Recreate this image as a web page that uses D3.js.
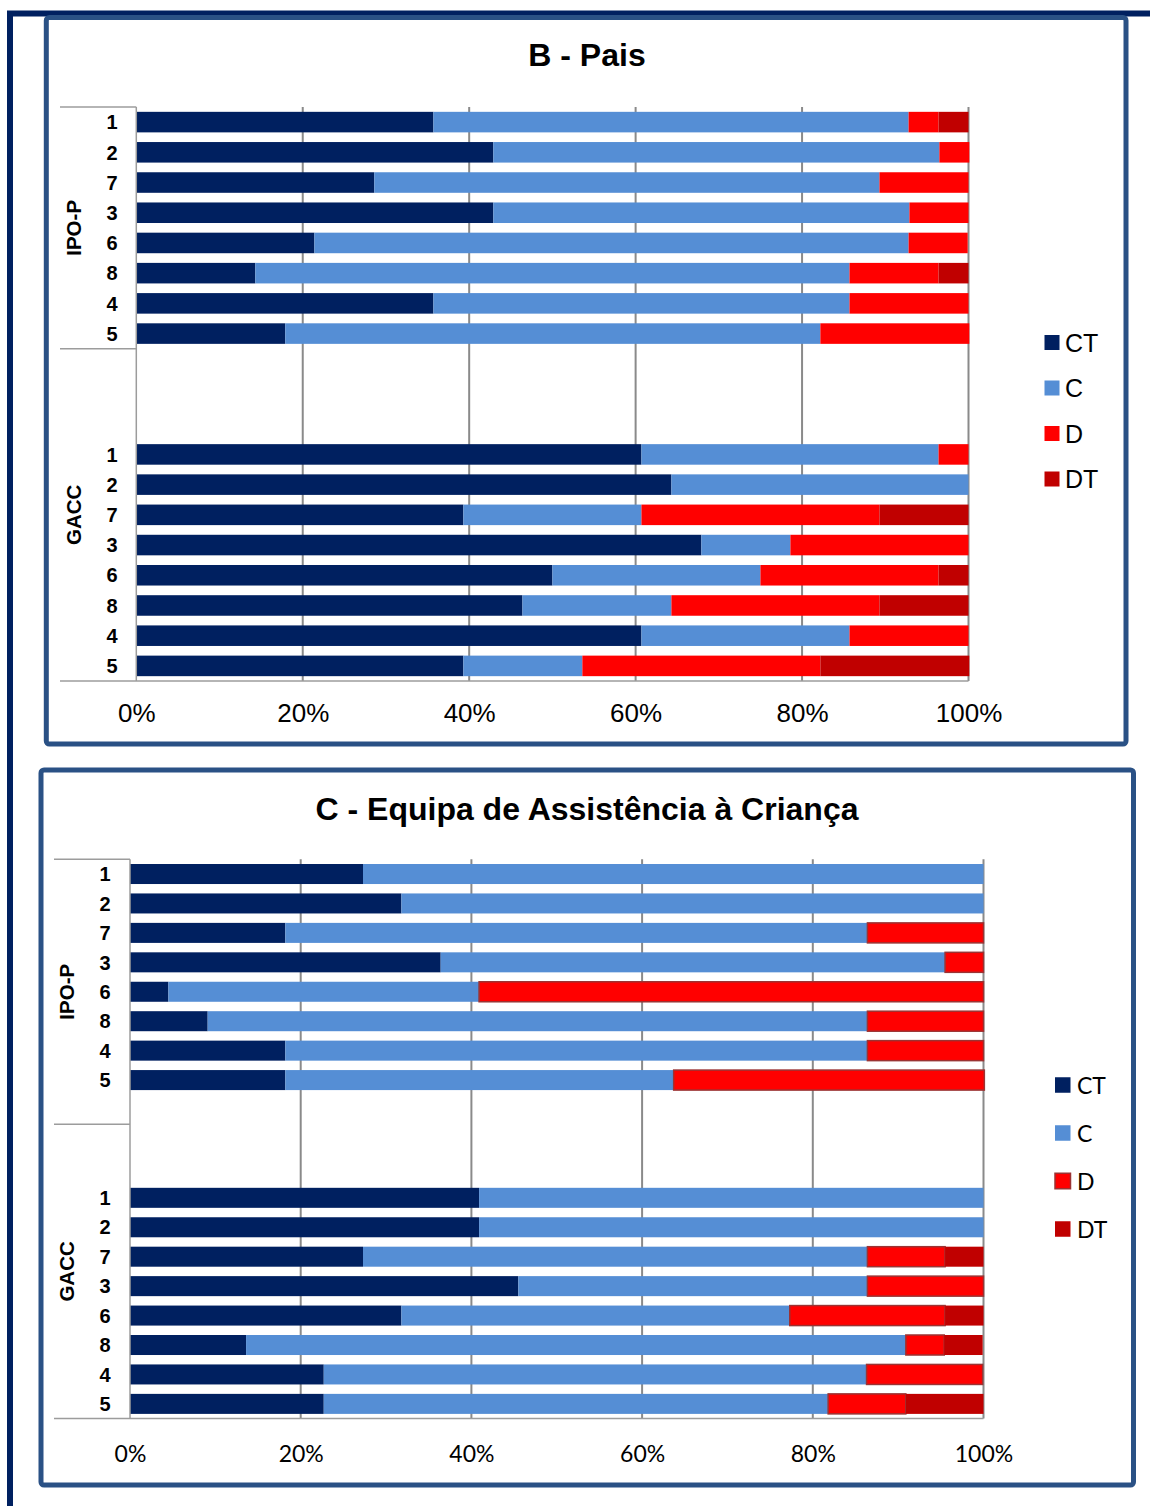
<!DOCTYPE html>
<html>
<head>
<meta charset="utf-8">
<script src="https://cdn.jsdelivr.net/npm/d3@7"></script>
<style>
  html, body { margin: 0; padding: 0; background: #fff; }
  svg { display: block; }
</style>
</head>
<body>
<svg id="fig" width="1150" height="1506"></svg>
<script>
// ---- data ----
const categories = ["1", "2", "7", "3", "6", "8", "4", "5"];
const groups = ["IPO-P", "GACC"];
const seriesNames = ["CT", "C", "D", "DT"];
const tickValues = [0, 20, 40, 60, 80, 100];

// B - Pais (percentages per item)
const paisIpoCT = [35.7, 42.9, 28.6, 42.9, 21.4, 14.3, 35.7, 17.9];
const paisIpoC  = [57.1, 53.6, 60.7, 50.0, 71.4, 71.4, 50.0, 64.3];
const paisIpoD  = [3.6, 3.6, 10.7, 7.1, 7.1, 10.7, 14.3, 17.9];
const paisIpoDT = [3.6, 0, 0, 0, 0, 3.6, 0, 0];
const paisGaccCT = [60.7, 64.3, 39.3, 67.9, 50.0, 46.4, 60.7, 39.3];
const paisGaccC  = [35.7, 35.7, 21.4, 10.7, 25.0, 17.9, 25.0, 14.3];
const paisGaccD  = [3.6, 0, 28.6, 21.4, 21.4, 25.0, 14.3, 28.6];
const paisGaccDT = [0, 0, 10.7, 0, 3.6, 10.7, 0, 17.9];

// C - Equipa de Assistência à Criança
const equipaIpoCT = [27.3, 31.8, 18.2, 36.4, 4.5, 9.1, 18.2, 18.2];
const equipaIpoC  = [72.7, 68.2, 68.2, 59.1, 36.4, 77.3, 68.2, 45.5];
const equipaIpoD  = [0, 0, 13.6, 4.5, 59.1, 13.6, 13.6, 36.4];
const equipaIpoDT = [0, 0, 0, 0, 0, 0, 0, 0];
const equipaGaccCT = [40.9, 40.9, 27.3, 45.5, 31.8, 13.6, 22.7, 22.7];
const equipaGaccC  = [59.1, 59.1, 59.1, 40.9, 45.5, 77.3, 63.6, 59.1];
const equipaGaccD  = [0, 0, 9.1, 13.6, 18.2, 4.5, 13.6, 9.1];
const equipaGaccDT = [0, 0, 4.5, 0, 4.5, 4.5, 0, 9.1];

// ---- styles ----
const colors = { CT: "#002060", C: "#558ED5", D: "#FF0000", DT: "#C00000" };
const ARIAL = "'Liberation Sans', Arial, sans-serif";
const CALIBRI = "Lato, 'Open Sans', sans-serif";

function buildRows(ct, c, d, dt) {
  return categories.map((cat, i) => ({ cat, CT: ct[i], C: c[i], D: d[i], DT: dt[i] }));
}

const svg = d3.select("#fig");
svg.append("rect").attr("width", 1150).attr("height", 1506).attr("fill", "#fff");

// page frame
svg.append("path")
  .attr("d", "M10,1506 V13.5 H1150")
  .attr("fill", "none").attr("stroke", "#002060").attr("stroke-width", 6);

function drawChart(cfg) {
  const g = svg.append("g");

  // panel frame
  g.append("rect")
    .attr("x", cfg.box[0]).attr("y", cfg.box[1])
    .attr("width", cfg.box[2] - cfg.box[0]).attr("height", cfg.box[3] - cfg.box[1])
    .attr("rx", 3).attr("fill", "#fff")
    .attr("stroke", "#2a5185").attr("stroke-width", 5);

  g.append("text")
    .attr("x", cfg.titleX).attr("y", cfg.titleY)
    .attr("text-anchor", "middle")
    .attr("font-family", ARIAL).attr("font-weight", "bold").attr("font-size", 32)
    .attr("fill", "#000").text(cfg.title);

  // slots: group rows with empty slots between the two groups
  const slots = [];
  groups.forEach((grp, gi) => {
    (cfg.slotLayout[gi].before || []).forEach(k => slots.push(k));
    categories.forEach(cat => slots.push(grp + "|" + cat));
    (cfg.slotLayout[gi].after || []).forEach(k => slots.push(k));
  });

  const y = d3.scaleBand().domain(slots).range([cfg.plot.y0, cfg.plot.y1])
    .paddingInner(0.32).paddingOuter(0.16);
  const x = d3.scaleLinear().domain([0, 100]).range([cfg.plot.x0, cfg.plot.x1]);

  // vertical gridlines
  g.append("g").selectAll("line").data(tickValues.slice(1)).join("line")
    .attr("x1", d => x(d)).attr("x2", d => x(d))
    .attr("y1", cfg.plot.y0).attr("y2", cfg.plot.y1)
    .attr("stroke", "#8a8a8a").attr("stroke-width", 2);

  // stacked bars
  const rows = [
    ...buildRows(...cfg.series[0]).map(r => ({ ...r, key: groups[0] + "|" + r.cat })),
    ...buildRows(...cfg.series[1]).map(r => ({ ...r, key: groups[1] + "|" + r.cat }))
  ];
  const stacked = d3.stack().keys(seriesNames)(rows);
  stacked.forEach(layer => {
    const name = layer.key;
    g.append("g").selectAll("rect").data(layer.filter(d => d[1] - d[0] > 0)).join("rect")
      .attr("x", d => x(d[0]))
      .attr("width", d => x(d[1]) - x(d[0]))
      .attr("y", d => y(d.data.key))
      .attr("height", y.bandwidth())
      .attr("fill", colors[name])
      .attr("stroke", cfg.dStroke && name === "D" ? cfg.dStroke : "none")
      .attr("stroke-width", 1.5);
  });

  // category axis
  const axisColor = "#9c9c9c";
  g.append("line")
    .attr("x1", cfg.plot.x0).attr("x2", cfg.plot.x0)
    .attr("y1", cfg.plot.y0).attr("y2", cfg.plot.y1)
    .attr("stroke", axisColor).attr("stroke-width", 1.5);
  const step = y.step();
  const groupBounds = groups.map((grp, gi) => {
    const first = grp + "|" + categories[0];
    const last = grp + "|" + categories[categories.length - 1];
    const lo = cfg.slotLayout[gi].before ? cfg.slotLayout[gi].before.length : 0;
    const hi = cfg.slotLayout[gi].after ? cfg.slotLayout[gi].after.length : 0;
    const top = y(first) - step * 0.16 - lo * step;
    const bottom = y(last) - step * 0.16 + step + hi * step;
    return { grp, top, bottom };
  });
  const hLines = [cfg.plot.y0, groupBounds[0].bottom];
  g.append("g").selectAll("line").data(hLines).join("line")
    .attr("x1", cfg.axisLeft).attr("x2", cfg.plot.x0)
    .attr("y1", d => d).attr("y2", d => d)
    .attr("stroke", axisColor).attr("stroke-width", 1.5);
  g.append("line")
    .attr("x1", cfg.axisLeft).attr("x2", cfg.plot.x1)
    .attr("y1", cfg.plot.y1).attr("y2", cfg.plot.y1)
    .attr("stroke", axisColor).attr("stroke-width", 1.5);

  // category labels
  g.append("g").selectAll("text").data(rows).join("text")
    .attr("x", cfg.labelRight)
    .attr("y", d => y(d.key) + y.bandwidth() / 2 + 7.2)
    .attr("text-anchor", "end")
    .attr("font-family", ARIAL).attr("font-weight", "bold").attr("font-size", 20)
    .attr("fill", "#000").text(d => d.cat);

  // group labels
  g.append("g").selectAll("text").data(groupBounds).join("text")
    .attr("transform", d => `translate(${cfg.groupX},${(d.top + d.bottom) / 2}) rotate(-90)`)
    .attr("text-anchor", "middle").attr("dy", "0.36em")
    .attr("font-family", ARIAL).attr("font-weight", "bold").attr("font-size", 20.5)
    .attr("fill", "#000").text(d => d.grp);

  // value axis labels
  const xAxis = d3.axisBottom(x).tickValues(tickValues).tickFormat(d => d + "%").tickSize(0);
  const ax = g.append("g").attr("transform", `translate(0,${cfg.tickY})`).call(xAxis);
  ax.select(".domain").remove();
  ax.selectAll("text")
    .attr("y", 0).attr("dy", 0)
    .attr("font-family", cfg.tickFont).attr("font-size", cfg.tickSize).attr("fill", "#000");

  // legend
  const lg = g.append("g").selectAll("g").data(seriesNames).join("g")
    .attr("transform", (d, i) => `translate(${cfg.legend.x},${cfg.legend.ys[i]})`);
  lg.append("rect")
    .attr("x", 0).attr("y", -cfg.legend.size / 2)
    .attr("width", cfg.legend.size).attr("height", cfg.legend.size)
    .attr("fill", d => colors[d])
    .attr("stroke", d => cfg.dStroke && d === "D" ? cfg.dStroke : "none")
    .attr("stroke-width", 1.5);
  lg.append("text")
    .attr("x", cfg.legend.textDx).attr("y", cfg.legend.textDy)
    .attr("font-family", cfg.legend.font).attr("font-size", cfg.legend.fontSize)
    .attr("fill", "#000").text(d => d);
}

drawChart({
  title: "B - Pais", titleX: 587, titleY: 66,
  box: [46.3, 17.5, 1126, 744],
  plot: { x0: 136.3, x1: 968.5, y0: 107, y1: 681 },
  slotLayout: [{ after: [] }, { before: ["gap1", "gap2", "gap3"] }],
  series: [
    [paisIpoCT, paisIpoC, paisIpoD, paisIpoDT],
    [paisGaccCT, paisGaccC, paisGaccD, paisGaccDT]
  ],
  axisLeft: 60, labelRight: 117.5, groupX: 73.5,
  tickY: 722, tickFont: ARIAL, tickSize: 26,
  legend: { x: 1044.5, size: 15, ys: [342.5, 388, 433.5, 479], textDx: 20.5, textDy: 9, font: ARIAL, fontSize: 25 }
});

drawChart({
  title: "C - Equipa de Assistência à Criança", titleX: 587, titleY: 820,
  box: [41, 770, 1133.5, 1485],
  plot: { x0: 130, x1: 983.5, y0: 859.3, y1: 1418.6 },
  slotLayout: [{ after: ["gap1"] }, { before: ["gap2", "gap3"] }],
  series: [
    [equipaIpoCT, equipaIpoC, equipaIpoD, equipaIpoDT],
    [equipaGaccCT, equipaGaccC, equipaGaccD, equipaGaccDT]
  ],
  dStroke: "#9b3333",
  axisLeft: 54, labelRight: 110.7, groupX: 67,
  tickY: 1461.7, tickFont: CALIBRI, tickSize: 23,
  legend: { x: 1055, size: 15.5, ys: [1085, 1133, 1181, 1229], textDx: 22, textDy: 8.5, font: CALIBRI, fontSize: 23 }
});
</script>
</body>
</html>
